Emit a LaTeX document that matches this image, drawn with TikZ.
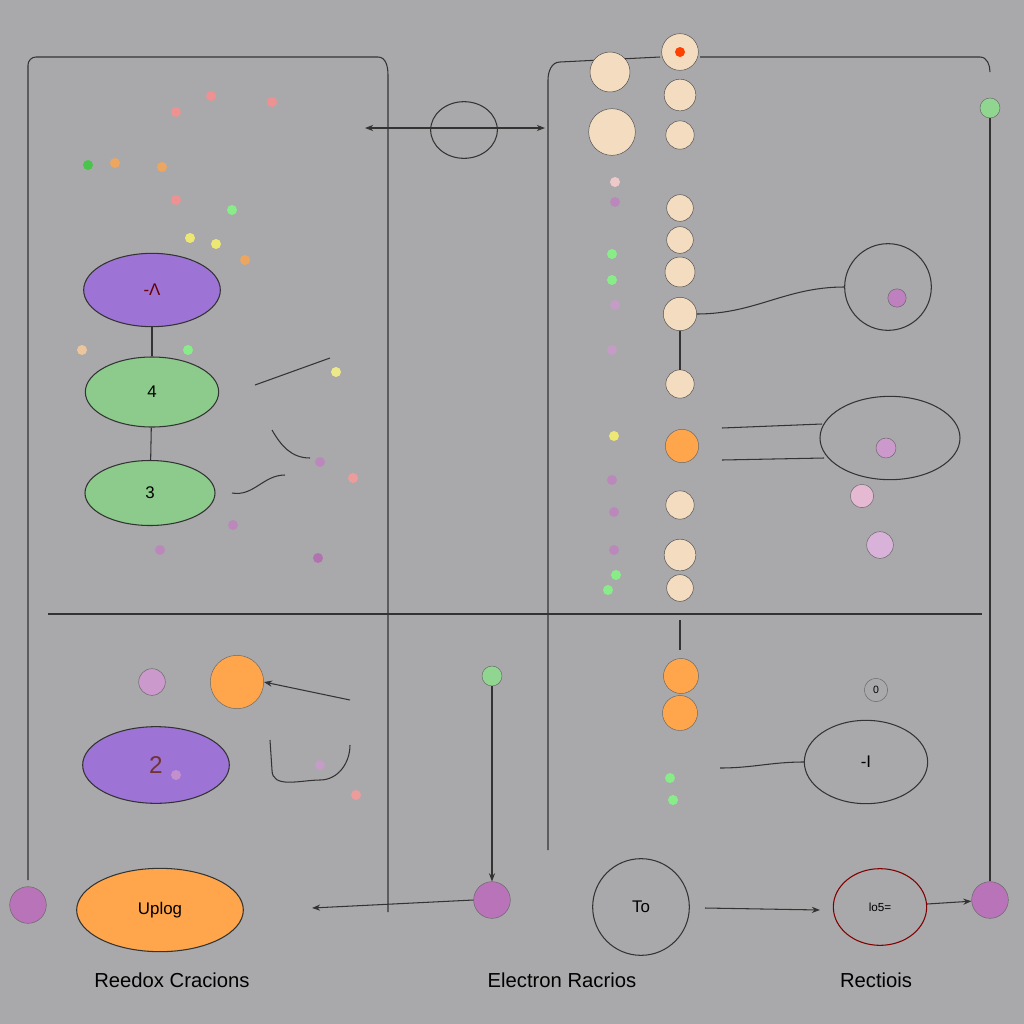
\documentclass[tikz,border=0pt]{standalone}
\usepackage{fontspec}
\setmainfont{Liberation Sans}
\usetikzlibrary{shapes.geometric,arrows.meta}
\definecolor{peach}{HTML}{F4DCC0}
\definecolor{bg}{HTML}{A9A9AB}
\begin{document}
\begin{tikzpicture}[x=0.03cm,y=-0.03cm,>={Stealth[length=7pt]},
  ln/.style={draw=black!80,line width=0.9pt},
  bead/.style={circle,draw=black!70,fill=peach,inner sep=0},
  obead/.style={circle,draw=black!60,fill=orange!70,inner sep=0},
  drop/.style={circle,draw=black!60,fill=violet!55,inner sep=0,minimum size=1.1cm},
  dot/.style={circle,fill=#1,inner sep=0,minimum size=0.3cm,opacity=0.8},
  lab/.style={font=\LARGE}]
\fill[bg] (0,0) rectangle (1024,1024);
\useasboundingbox (0,0) rectangle (1024,1024);
% frames
\draw[ln] (28,880) -- (28,65) to[out=90,in=180] (36,57) -- (378,57) to[out=0,in=90] (388,75) -- (388,912);
\draw[ln] (548,850) -- (548,80) to[out=90,in=180] (560,62) -- (660,57);
\draw[ln] (700,57) -- (980,57) to[out=0,in=90] (990,72);
\draw[ln] (48,614) -- (982,614);
% top connector
\node[draw=black!80,ellipse,minimum width=2cm,minimum height=1.7cm,line width=0.9pt] (c1) at (464,130) {};
\coordinate (al) at (365,128); \coordinate (ar) at (545,128);
\draw[ln,<->] (al) -- (ar);
% left ellipses
\node[ellipse,draw=black!80,fill=violet!60!blue!55,minimum width=4.1cm,minimum height=2.2cm,line width=0.9pt] (e1) at (152,290) {\Large\color{red!40!black} -Λ};
\node[ellipse,draw=black!80,fill=green!55!black!45!white,minimum width=4cm,minimum height=2.1cm,line width=0.9pt] (e2) at (152,392) {\Large 4};
\node[ellipse,draw=black!80,fill=green!55!black!45!white,minimum width=3.9cm,minimum height=1.95cm,line width=0.9pt] (e3) at (150,493) {\Large 3};
\node[ellipse,draw=black!80,fill=violet!60!blue!55,minimum width=4.4cm,minimum height=2.3cm,line width=0.9pt] (e4) at (156,765) {\huge\color{red!30!black!80} 2};
\node[ellipse,draw=black!80,fill=orange!70,minimum width=5cm,minimum height=2.5cm,line width=0.9pt] (e5) at (160,910) {\Large Uplog};
\draw[ln] (e1) -- (e2); \draw[ln] (e2) -- (e3);
% beads
\node[bead,minimum size=1.2cm] (b1) at (610,72) {};
\node[bead,minimum size=1.4cm] (b2) at (612,132) {};
\foreach \y/\s [count=\i] in {52/1.1,95/0.95,135/0.85,208/0.8,240/0.8,272/0.9,314/1.0,384/0.85,505/0.85,555/0.95,588/0.8}
  \node[bead,minimum size=\s cm] (k\i) at (680,\y) {};
\node[obead,minimum size=1cm] (o1) at (682,446) {};
\node[obead,minimum size=1.05cm] (o2) at (681,676) {};
\node[obead,minimum size=1.05cm] (o3) at (680,713) {};
\node[circle,fill=red!50!orange,minimum size=0.3cm,inner sep=0] at (680,52) {};
\draw[ln] (k7) -- (k8);
\draw[ln] (680,620) -- (680,650);
% right side shapes
\node[circle,draw=black!80,minimum size=2.6cm,line width=0.9pt] (r1) at (888,287) {};
\draw[ln] (k7.east) to[out=0,in=180] (r1.west);
\node[ellipse,draw=black!80,minimum width=4.2cm,minimum height=2.5cm,line width=0.9pt] (r2) at (890,438) {};
\draw[ln] (722,428) -- (822,424); \draw[ln] (722,460) -- (824,458);
\node[ellipse,draw=black!80,minimum width=3.7cm,minimum height=2.5cm,line width=0.9pt] (r3) at (866,762) {\Large -I};
\coordinate (r3a) at (720,768);
\draw[ln] (r3a) to[out=0,in=180] (r3.west);
\node[drop,minimum size=0.6cm,fill=violet!40] at (886,448) {};
\node[drop,minimum size=0.8cm,fill=violet!30] at (880,545) {};
\node[drop,minimum size=0.7cm,fill=pink!60!violet!50] at (862,496) {};
\node[drop,minimum size=0.55cm,fill=violet!50] at (897,298) {};
\node[drop,minimum size=0.7cm,fill=none] at (876,690) {\small 0};
% bottom row
\node[drop,minimum size=1.1cm] (d1) at (28,905) {};
\node[drop] (d2) at (492,900) {};
\node[drop] (d3) at (990,900) {};
\node[circle,draw=black!60,fill=green!45!gray!60,minimum size=0.6cm,inner sep=0] (g1) at (492,676) {};
\node[circle,draw=black!60,fill=green!45!gray!60,minimum size=0.6cm,inner sep=0] (g2) at (990,108) {};
\draw[ln,->] (g1) -- (d2);
\draw[ln] (g2) -- (d3);
\node[circle,draw=black!80,minimum size=2.9cm,line width=0.9pt] (t1) at (641,907) {\Large To};
\node[ellipse,draw=red!50!black,minimum width=2.8cm,minimum height=2.3cm,line width=0.9pt] (t2) at (880,907) {lo5=};
\coordinate (bl) at (312,908);
\draw[ln,->] (d2.west) -- (bl);
\draw[ln,->] (705,908) -- (820,910);
\draw[ln,->] (t2) -- (d3);
\node[circle,draw=black!60,fill=orange!70,minimum size=1.6cm,inner sep=0] (o4) at (237,682) {};
\coordinate (o4a) at (350,700);
\draw[ln,->] (o4a) -- (o4.east);
\node[drop,minimum size=0.8cm,fill=violet!40] at (152,682) {};
% colored dots
\foreach \x/\y/\c in {88/165/green!60!gray,115/163/orange!70,162/167/orange!70,176/112/red!45,211/96/red!45,272/102/red!45,176/200/red!45,190/238/yellow!60,216/244/yellow!60,245/260/orange!70,232/210/green!50,615/182/pink!70,615/202/violet!50,612/254/green!50,612/280/green!50,615/305/violet!40,612/350/violet!40,614/436/yellow!60,612/480/violet!50,614/512/violet!50,614/550/violet!50,616/575/green!50,608/590/green!50,233/525/violet!50,318/558/violet!60,353/478/red!40,320/462/violet!50,336/372/yellow!50,356/795/red!40,320/765/violet!40,176/775/violet!40,160/550/violet!50,82/350/orange!40,188/350/green!50,670/778/green!50,673/800/green!50}
  \node[dot=\c] at (\x,\y) {};
\draw[ln] (255,385) -- (330,358);
\draw[ln] (232,493) to[out=-10,in=180] (285,475);
\draw[ln] (272,430) to[out=-60,in=180] (310,458);
\draw[ln] (270,740) -- (272,770) to[out=-90,in=180] (320,780) to[out=0,in=-90] (350,745);
% labels
\node[lab] (L1) at (172,980) {Reedox Cracions};
\node[lab] (L2) at (562,980) {Electron Racrios};
\node[lab] (L3) at (876,980) {Rectiois};
\end{tikzpicture}
\end{document}
